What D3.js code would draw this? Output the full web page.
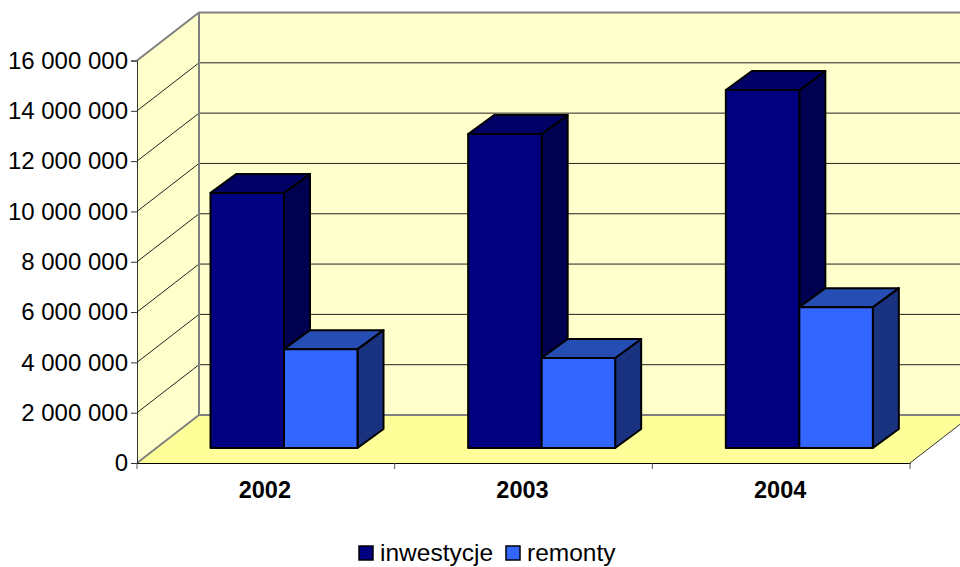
<!DOCTYPE html>
<html>
<head>
<meta charset="utf-8">
<script src="https://cdn.jsdelivr.net/npm/d3@7"></script>
<style>
  html, body { margin: 0; padding: 0; background: #fff; overflow: hidden; }
  svg { display: block; font-family: "Liberation Sans", Arial, sans-serif; }
</style>
</head>
<body>
<svg width="960" height="567"></svg>
<script>
/* chart data */
const years = ["2002", "2003", "2004"];
const seriesNames = ["inwestycje", "remonty"];
const inwestycje = [10140000, 12480000, 14230000];
const remonty = [3930000, 3580000, 5600000];
const yTicks = [0, 2000000, 4000000, 6000000, 8000000, 10000000, 12000000, 14000000, 16000000];

const svg = d3.select("svg");

/* plot box, front plane */
const plotLeft = 137, plotRight = 910, plotBottom = 463, plotTop = 60.5;
// wall depth
const depthX = 62, depthY = -48;
// where the bars sit inside the depth
const barShiftX = 19.9, barShiftY = -15;
const barDepthX = 26, barDepthY = -19;

const colors = {
  inwestycje: { front: "#000080", side: "#000050", top: "#000066" },
  remonty: { front: "#3366ff", side: "#1a3380", top: "#264db3" }
};

const x = d3.scaleBand().domain(years).range([plotLeft, plotRight]).paddingInner(0).paddingOuter(0);
const y = d3.scaleLinear().domain([0, 16000000]).range([plotBottom, plotTop]);
const inner = d3.scaleBand().domain(seriesNames).range([53.6, 200.6]);

function poly(pts) { return pts.map(p => p.join(",")).join(" "); }

/* walls and floor */
svg.append("polygon")
  .attr("points", poly([[plotLeft, plotBottom], [plotLeft + depthX, plotBottom + depthY], [plotLeft + depthX, plotTop + depthY], [plotLeft, plotTop]]))
  .attr("fill", "#ffffcc");
svg.append("rect")
  .attr("x", plotLeft + depthX).attr("y", plotTop + depthY)
  .attr("width", plotRight - plotLeft).attr("height", plotBottom - plotTop)
  .attr("fill", "#ffffcc");
svg.append("polygon")
  .attr("points", poly([[plotLeft, plotBottom], [plotLeft + depthX, plotBottom + depthY], [plotRight + depthX, plotBottom + depthY], [plotRight, plotBottom]]))
  .attr("fill", "#ffff99");

/* gridlines */
svg.append("g").selectAll("polyline")
  .data(yTicks.slice(1, -1))
  .enter().append("polyline")
  .attr("points", d => poly([[plotLeft, y(d)], [plotLeft + depthX, y(d) + depthY], [plotRight + depthX, y(d) + depthY]]))
  .attr("fill", "none")
  .attr("stroke", "#222")
  .attr("stroke-width", 1);

/* wall edges */
svg.append("polyline")
  .attr("points", poly([[plotLeft, plotTop], [plotLeft + depthX, plotTop + depthY], [plotRight + depthX, plotTop + depthY]]))
  .attr("fill", "none").attr("stroke", "#808080").attr("stroke-width", 2);
svg.append("line")
  .attr("x1", plotLeft + depthX).attr("y1", plotTop + depthY)
  .attr("x2", plotLeft + depthX).attr("y2", plotBottom + depthY)
  .attr("stroke", "#808080").attr("stroke-width", 2);
svg.append("polyline")
  .attr("points", poly([[plotLeft, plotBottom], [plotLeft + depthX, plotBottom + depthY], [plotRight + depthX, plotBottom + depthY]]))
  .attr("fill", "none").attr("stroke", "#808080").attr("stroke-width", 2);
svg.append("line")
  .attr("x1", plotRight).attr("y1", plotBottom)
  .attr("x2", plotRight + depthX).attr("y2", plotBottom + depthY)
  .attr("stroke", "#333").attr("stroke-width", 1);

/* bars */
const bars = [];
years.forEach((yr, i) => {
  bars.push({ year: yr, name: "inwestycje", value: inwestycje[i] });
  bars.push({ year: yr, name: "remonty", value: remonty[i] });
});

const barG = svg.append("g")
  .selectAll("g")
  .data(bars)
  .enter().append("g")
  .attr("stroke", "#000")
  .attr("stroke-width", 2)
  .attr("stroke-linejoin", "round");

function barBox(d) {
  const x0 = x(d.year) + inner(d.name) + barShiftX;
  return { x0: x0, x1: x0 + inner.bandwidth(), y0: y(d.value) + barShiftY, y1: y(0) + barShiftY };
}

barG.append("polygon")
  .attr("fill", d => colors[d.name].side)
  .attr("points", d => {
    const b = barBox(d);
    return poly([[b.x1, b.y0], [b.x1 + barDepthX, b.y0 + barDepthY], [b.x1 + barDepthX, b.y1 + barDepthY], [b.x1, b.y1]]);
  });
barG.append("polygon")
  .attr("fill", d => colors[d.name].top)
  .attr("points", d => {
    const b = barBox(d);
    return poly([[b.x0, b.y0], [b.x0 + barDepthX, b.y0 + barDepthY], [b.x1 + barDepthX, b.y0 + barDepthY], [b.x1, b.y0]]);
  });
barG.append("rect")
  .attr("fill", d => colors[d.name].front)
  .attr("x", d => barBox(d).x0)
  .attr("y", d => barBox(d).y0)
  .attr("width", inner.bandwidth())
  .attr("height", d => barBox(d).y1 - barBox(d).y0);

/* axes */
const yAxis = d3.axisLeft(y)
  .tickValues(yTicks)
  .tickSize(6)
  .tickPadding(3)
  .tickFormat(d => d3.format(",")(d).replace(/,/g, " "));

svg.append("g")
  .attr("transform", `translate(${plotLeft},0)`)
  .call(yAxis)
  .call(g => g.selectAll("text").attr("font-size", 24).attr("font-family", "inherit").attr("fill", "#000"))
  .call(g => g.selectAll("line").attr("stroke", "#333"))
  .call(g => g.select(".domain").attr("stroke", "#333"));

svg.append("g")
  .attr("transform", `translate(0,${plotBottom})`)
  .call(d3.axisBottom(x).tickSize(0).tickPadding(18))
  .call(g => g.selectAll("text").attr("font-size", 23.5).attr("font-weight", "bold").attr("font-family", "inherit").attr("fill", "#000").attr("dx", -1))
  .call(g => g.select(".domain").attr("stroke", "#000"));

// the category ticks sit between the bands
svg.append("g").selectAll("line")
  .data(years.concat("end"))
  .enter().append("line")
  .attr("x1", (d, i) => plotLeft + i * x.bandwidth())
  .attr("x2", (d, i) => plotLeft + i * x.bandwidth())
  .attr("y1", plotBottom)
  .attr("y2", plotBottom + 6)
  .attr("stroke", "#555");

/* legend */
const legendX = d3.scaleOrdinal().domain(seriesNames).range([359, 506]);
const legend = svg.append("g").selectAll("g")
  .data(seriesNames)
  .enter().append("g")
  .attr("transform", d => `translate(${legendX(d)},546)`);

legend.append("rect")
  .attr("width", 14).attr("height", 14)
  .attr("fill", d => colors[d].front)
  .attr("stroke", "#000").attr("stroke-width", 1.5);
legend.append("text")
  .attr("x", 21).attr("y", 15)
  .attr("font-size", 24.5)
  .text(d => d);
</script>
</body>
</html>
